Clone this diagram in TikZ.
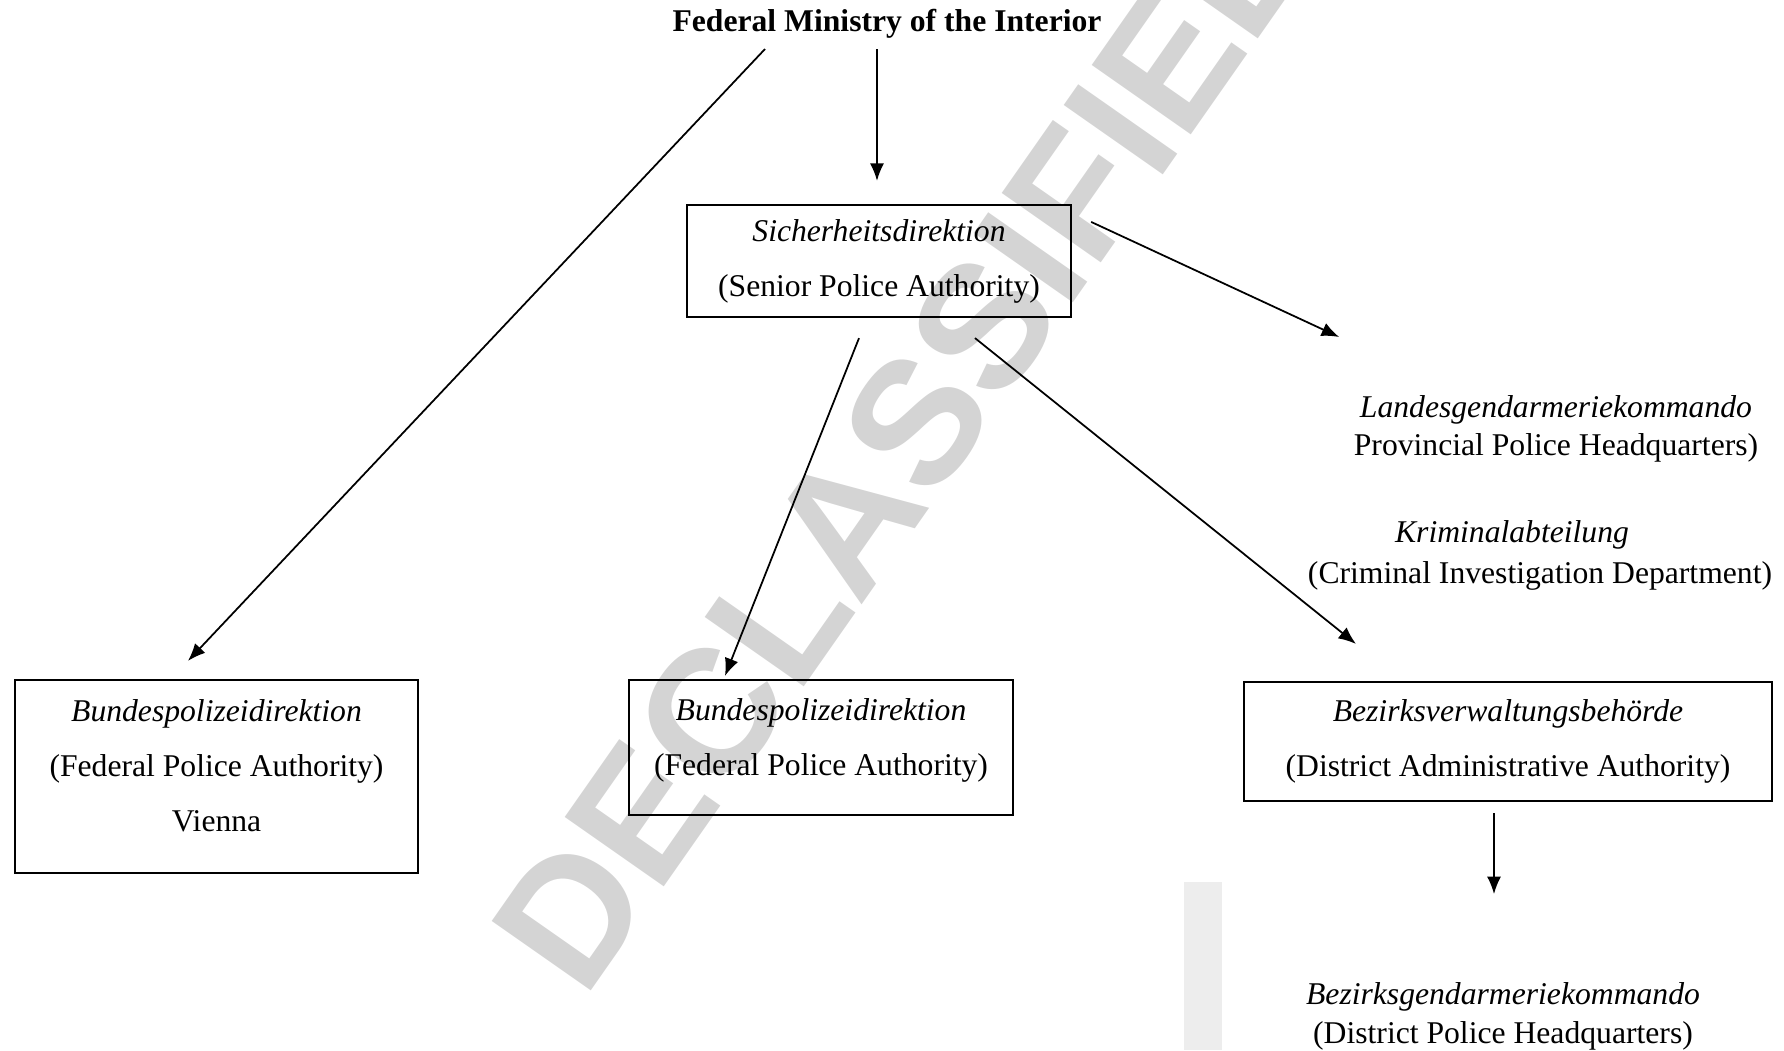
\documentclass[tikz,border=0pt]{standalone}
\usepackage{fontspec}
\setmainfont{Liberation Serif}
\newfontfamily\stampfont{Liberation Sans}
\usepackage{tikz}
\usetikzlibrary{positioning}
\usetikzlibrary{calc}
\usetikzlibrary{arrows.meta}
\tikzset{
	box/.style={draw,line width=0.6pt,align=center,inner sep=0pt,font=\fontsize{9}{15.6}\selectfont},
	lbl/.style={align=center,inner sep=0pt,font=\fontsize{9}{11}\selectfont},
	arr/.style={line width=0.5pt,-{Latex[length=5pt,width=4pt]}}
}

\begin{document}
\begin{tikzpicture}[x=0.01cm,y=-0.01cm]
\useasboundingbox (0,0) rectangle (1784,1050);
\clip (0,0) rectangle (1784,1050); % page

%Tampon
\node[rotate=55,text=black!17,inner sep=0pt,font=\stampfont\bfseries\fontsize{50}{50}\selectfont] (stamp) at (905,438) {DECLASSIFIED};
\fill[black!7] (1184,882) rectangle (1222,1050);

%Ministry
\node[lbl,anchor=base,font=\fontsize{9}{11}\selectfont\bfseries] (bmi) at (887,31) {Federal Ministry of the Interior};

%Boxes
\node[box,minimum width=3.84cm,minimum height=1.12cm] (sdk) at (879,261) {\textit{Sicherheitsdirektion}\\(Senior Police Authority)};
\node[box,minimum width=4.03cm,minimum height=1.93cm,text depth=0.22cm] (bpdv) at (216.5,776.5) {\textit{Bundespolizeidirektion}\\(Federal Police Authority)\\Vienna};
\node[box,minimum width=3.84cm,minimum height=1.35cm,text depth=0.21cm] (bpd) at (821,747.5) {\textit{Bundespolizeidirektion}\\(Federal Police Authority)};
\node[box,minimum width=5.28cm,minimum height=1.19cm] (bvb) at (1508,741.5) {\textit{Bezirksverwaltungsbehörde}\\(District Administrative Authority)};

%Texts without box
\node[lbl] (lgk) at (1556,429) {\textit{Landesgendarmeriekommando}\\Provincial Police Headquarters)};
\node[lbl] (krimde) at (1512,535) {\textit{Kriminalabteilung}};
\node[lbl] (krimen) at (1540,575.5) {(Criminal Investigation Department)};
\node[lbl] (bgk) at (1503,1016.5) {\textit{Bezirksgendarmeriekommando}\\(District Police Headquarters)};

%Arrows
\draw[arr] ([shift={(-122,18)}]bmi.base) -- ([shift={(-28.5,-18)}]bpdv.north);
\draw[arr] ([shift={(-10,18)}]bmi.base) -- ([shift={(-2,-23)}]sdk.north);
\draw[arr] ([shift={(19,18)}]sdk.north east) -- ([shift={(-14,-92)}]lgk.west);
\draw[arr] ([shift={(-20,20)}]sdk.south) -- ([shift={(-96,-3)}]bpd.north);
\draw[arr] ([shift={(96,20)}]sdk.south) -- ([shift={(-152,-37)}]bvb.north);
\draw[arr] ([shift={(-14,11)}]bvb.south) -- ([shift={(-9,-88)}]bgk.north);

\end{tikzpicture}
\end{document}
